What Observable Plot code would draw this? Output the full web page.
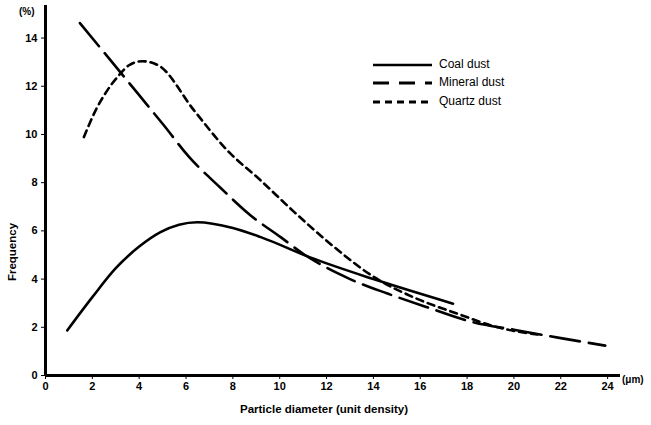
<!DOCTYPE html>
<html>
<head>
<meta charset="utf-8">
<script src="https://cdn.jsdelivr.net/npm/d3@7"></script>
<script src="https://cdn.jsdelivr.net/npm/@observablehq/plot@0.6"></script>
<style>
  body { margin: 0; background: #fff; }
  #wrap { position: relative; width: 651px; height: 425px; font-family: "Liberation Sans", Arial, sans-serif; color: #000; }
  .lbl { position: absolute; white-space: nowrap; }
</style>
</head>
<body>
<div id="wrap"></div>
<script>
const coalX = [0.93, 2, 3, 4, 4.91, 6.48, 8, 9.19, 11.3, 14, 17.4];
const coalY = [1.87, 3.25, 4.45, 5.35, 5.95, 6.36, 6.12, 5.74, 4.9, 4.0, 2.98];

const mineralX = [1.47, 4, 5.06, 6.1, 7.48, 8.76, 10.04, 11.0, 13, 14.6, 16.3, 18.3, 20, 22, 23.9];
const mineralY = [14.62, 11.63, 10.37, 9.1, 7.78, 6.64, 5.74, 5.05, 4.0, 3.4, 2.83, 2.2, 1.9, 1.55, 1.24];

const quartzX = [1.64, 2.14, 2.64, 3.13, 3.55, 4.13, 4.83, 6.34, 7.76, 9.19, 10.6, 12.3, 14, 15.7, 17.6, 19.3, 21];
const quartzY = [9.89, 11.0, 11.83, 12.45, 12.86, 13.04, 12.86, 11.0, 9.34, 8.09, 6.8, 5.35, 4.1, 3.25, 2.56, 2.0, 1.7];

const xTicks = [0, 2, 4, 6, 8, 10, 12, 14, 16, 18, 20, 22, 24];
const yTicks = [0, 2, 4, 6, 8, 10, 12, 14];

const seriesNames = ["Coal dust", "Mineral dust", "Quartz dust"];
const seriesDash = [null, "30,9", "7,5"];

const toRows = (xs, ys) => xs.map((x, i) => ({x, y: ys[i]}));
const coal = toRows(coalX, coalY);
const mineral = toRows(mineralX, mineralY);
const quartz = toRows(quartzX, quartzY);

const chart = Plot.plot({
  width: 651,
  height: 425,
  marginLeft: 45,
  marginRight: 31,
  marginTop: 5,
  marginBottom: 50,
  style: {fontFamily: "'Liberation Sans', Arial, sans-serif", fontSize: "11px", fontWeight: "bold", background: "#fff"},
  x: {domain: [0, 24.55], ticks: xTicks, tickSize: 4, tickPadding: 3, label: null},
  y: {domain: [0, 15.35], ticks: yTicks, tickSize: 4, tickPadding: 4, label: null},
  marks: [
    Plot.lineY(coal, {x: "x", y: "y", curve: "monotone-x", stroke: "#000", strokeWidth: 2.6}),
    Plot.lineY(mineral, {x: "x", y: "y", curve: "monotone-x", stroke: "#000", strokeWidth: 2.6, strokeDasharray: seriesDash[1]}),
    Plot.lineY(quartz, {x: "x", y: "y", curve: "monotone-x", stroke: "#000", strokeWidth: 2.6, strokeDasharray: seriesDash[2]}),
    Plot.ruleX([0], {stroke: "#000", strokeWidth: 3}),
    Plot.ruleY([0], {stroke: "#000", strokeWidth: 3})
  ]
});

const wrap = document.getElementById("wrap");
wrap.appendChild(chart);

function addLabel(text, css) {
  const d = document.createElement("div");
  d.className = "lbl";
  d.textContent = text;
  Object.assign(d.style, css);
  wrap.appendChild(d);
  return d;
}

addLabel("(%)", {left: "19px", top: "6px", fontSize: "10px", fontWeight: "bold"});
addLabel("(μm)", {left: "622px", top: "374px", fontSize: "10px", fontWeight: "bold"});
addLabel("Particle diameter (unit density)", {left: "240px", top: "403px", fontSize: "11.5px", fontWeight: "bold"});
addLabel("Frequency", {left: "12px", top: "252px", fontSize: "11.5px", fontWeight: "bold", transform: "translate(-50%,-50%) rotate(-90deg)"});

// legend
const legendTop = [65, 83, 102];
seriesNames.forEach((name, i) => {
  const svg = d3.create("svg").attr("width", 62).attr("height", 6)
    .style("position", "absolute").style("left", "372px").style("top", (legendTop[i] - 3) + "px");
  svg.append("line").attr("x1", 1).attr("x2", 60).attr("y1", 3).attr("y2", 3)
    .attr("stroke", "#000").attr("stroke-width", i === 0 ? 2.4 : 2.8)
    .attr("stroke-dasharray", i === 1 ? "16,10" : seriesDash[i]);
  wrap.appendChild(svg.node());
  addLabel(name, {left: "439px", top: (legendTop[i] - 8) + "px", fontSize: "12px"});
});
</script>
</body>
</html>
